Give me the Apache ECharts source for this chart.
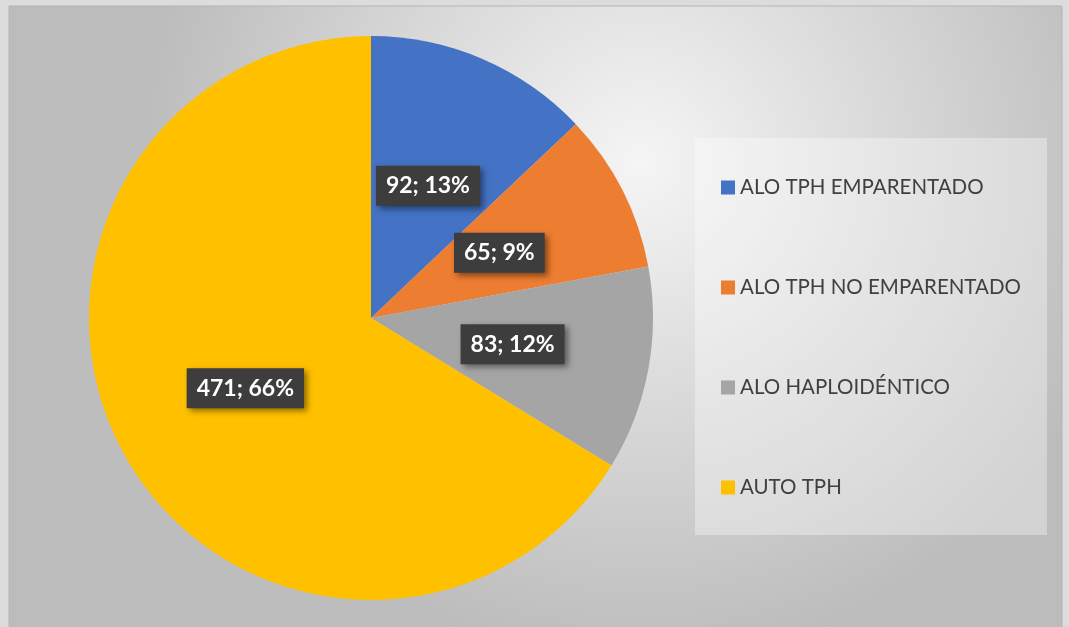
<!DOCTYPE html>
<html>
<head>
<meta charset="utf-8">
<script src="https://cdn.jsdelivr.net/npm/echarts@6/dist/echarts.min.js"></script>
<style>
  html, body { margin: 0; padding: 0; background: #dcdcdc; }
  #chart { width: 1069px; height: 627px; }
</style>
</head>
<body>
<div id="chart"></div>
<script>
// datos del grafico
var categories = ['ALO TPH EMPARENTADO', 'ALO TPH NO EMPARENTADO', 'ALO HAPLOIDÉNTICO', 'AUTO TPH']
var values = [92, 65, 83, 471]
var colors = ['#4472C4', '#ED7D31', '#A5A5A5', '#FFC000']

var chart = echarts.init(document.getElementById('chart'))

var pieData = categories.map(function (name, i) {
  return { name: name, value: values[i], itemStyle: { color: colors[i] } }
})

chart.setOption({
  backgroundColor: '#dcdcdc',
  graphic: [
    {
      type: 'rect',
      z: -10,
      shape: { x: 9, y: 6, width: 1053, height: 625 },
      style: {
        fill: {
          type: 'radial', x: 0.6, y: 0.25, r: 0.8,
          colorStops: [
            { offset: 0, color: '#f5f5f5' },
            { offset: 1, color: '#bcbcbc' }
          ]
        },
        stroke: '#b4b4b4',
        lineWidth: 1
      }
    },
    {
      // caja de la leyenda
      type: 'rect',
      z: -5,
      shape: { x: 695, y: 138, width: 352, height: 397 },
      style: { fill: 'rgba(255,255,255,0.35)' }
    }
  ],
  legend: {
    orient: 'vertical',
    left: 721,
    top: 177,
    padding: 0,
    icon: 'rect',
    itemWidth: 14,
    itemHeight: 14,
    itemGap: 79,
    textStyle: {
      color: '#404040',
      fontSize: 20.5,
      lineHeight: 21,
      fontFamily: 'Lato'
    },
    data: categories
  },
  series: [{
    type: 'pie',
    center: [371, 318],
    radius: 282,
    startAngle: 90,
    percentPrecision: 0,
    silent: true,
    label: {
      position: 'inside',
      formatter: '{c}; {d}%',
      color: '#ffffff',
      fontSize: 23,
      fontWeight: 'bold',
      fontFamily: 'Lato',
      backgroundColor: '#3d3d3d',
      padding: [9, 10, 8, 10],
      shadowColor: 'rgba(0,0,0,0.45)',
      shadowBlur: 6,
      shadowOffsetX: 3,
      shadowOffsetY: 3
    },
    labelLine: { show: false },
    data: pieData
  }]
})
</script>
</body>
</html>
